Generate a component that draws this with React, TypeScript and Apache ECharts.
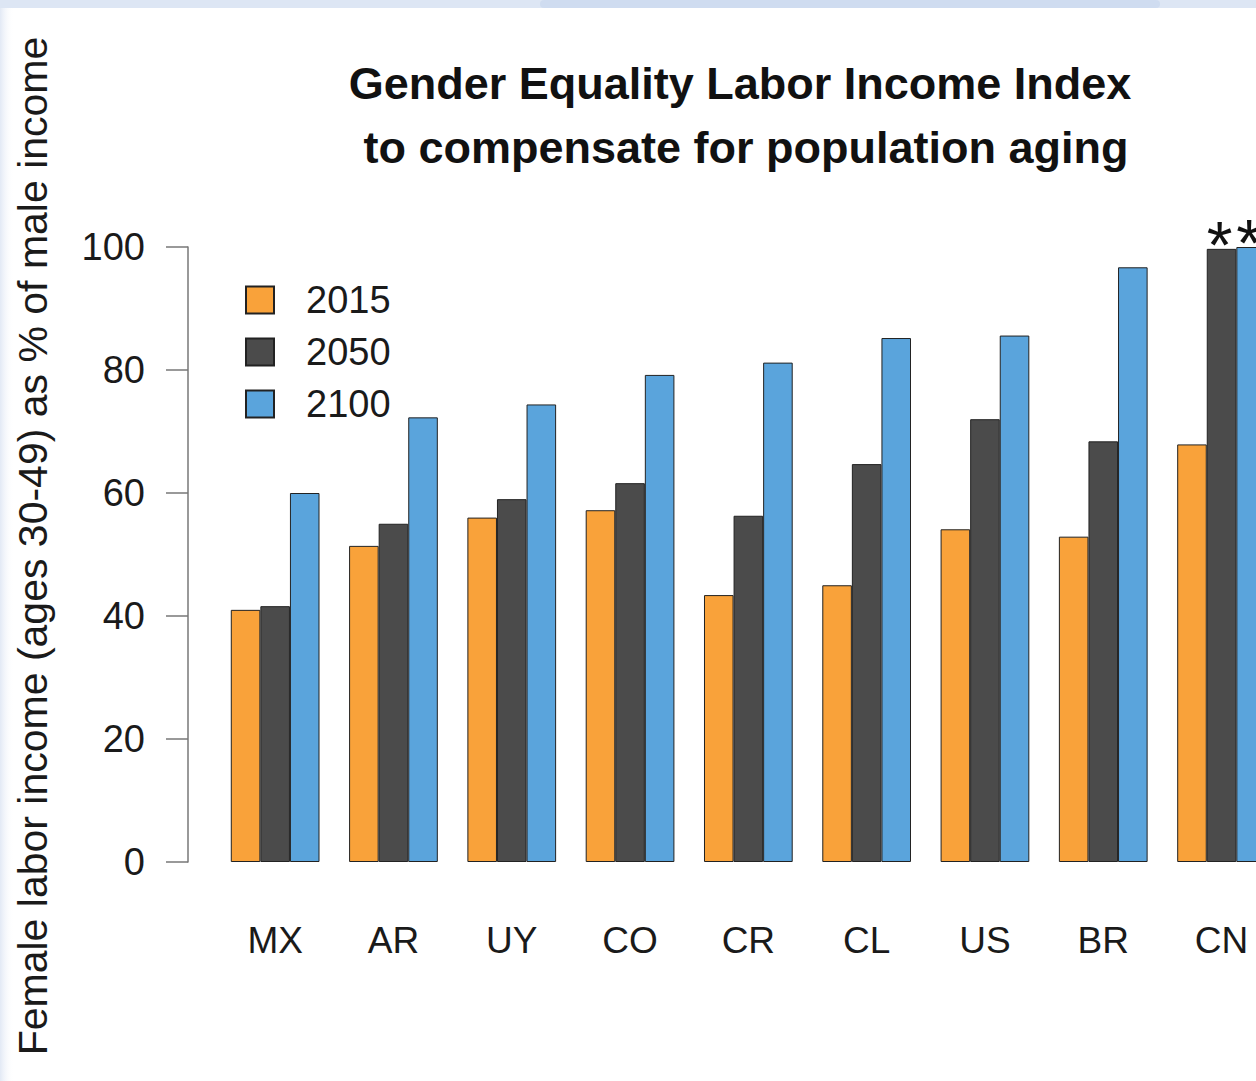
import { useEffect, useRef } from "react";
import * as echarts from "echarts";

const countries = ["MX", "AR", "UY", "CO", "CR", "CL", "US", "BR", "CN"];
const years = ["2015", "2050", "2100"];
const values2015 = [41.0, 51.4, 56.0, 57.2, 43.4, 45.0, 54.1, 52.9, 67.9];
const values2050 = [41.6, 55.0, 59.0, 61.6, 56.3, 64.7, 72.0, 68.4, 99.7];
const values2100 = [60.0, 72.3, 74.4, 79.2, 81.2, 85.2, 85.6, 96.7, 100.0];
// countries whose 2050/2100 values reach the 100 cap (marked with *)
const capped2050 = ["CN"];
const capped2100 = ["CN"];
const yTicks = [0, 20, 40, 60, 80, 100];
const titleLine1 = "Gender Equality Labor Income Index";
const titleLine2 = "to compensate for population aging";
const yAxisTitle = "Female labor income (ages 30-49) as % of male income";

const colors = ["#F9A23A", "#4B4B4B", "#5AA4DC"];
const FONT = "'Liberation Sans', Arial, Helvetica, sans-serif";

function withCaps(vals: number[], capped: string[]) {
  return vals.map((v, i) =>
    capped.includes(countries[i])
      ? {
          value: v,
          label: {
            show: true,
            position: "top",
            formatter: "*",
            distance: 0,
            offset: [-2, 29],
            fontSize: 66,
            color: "#111",
            fontFamily: FONT,
          },
        }
      : v
  );
}

export default function App() {
  const ref = useRef<HTMLDivElement>(null);
  useEffect(() => {
    document.body.style.margin = "0";
    const chart = echarts.init(ref.current!, undefined, { renderer: "svg" });
    const seriesData = [
      withCaps(values2015, []),
      withCaps(values2050, capped2050),
      withCaps(values2100, capped2100),
    ];
    chart.setOption({
      animation: false,
      backgroundColor: "#ffffff",
      textStyle: { fontFamily: FONT },
      grid: { left: 216, top: 247, width: 1064.7, height: 615 },
      legend: {
        data: years,
        orient: "vertical",
        left: 245,
        top: 281,
        padding: 0,
        itemWidth: 28,
        itemHeight: 27,
        itemGap: 14,
        icon: "rect",
        textStyle: { fontSize: 38, color: "#1a1a1a", fontFamily: FONT, padding: [0, 0, 0, 27] },
      },
      xAxis: {
        type: "category",
        data: countries,
        axisLine: { show: false },
        axisTick: { show: false },
        axisLabel: { margin: 60, fontSize: 37, color: "#1a1a1a", fontFamily: FONT },
      },
      yAxis: {
        type: "value",
        min: yTicks[0],
        max: yTicks[yTicks.length - 1],
        interval: yTicks[1] - yTicks[0],
        offset: 28,
        axisLine: { show: true, lineStyle: { color: "#777", width: 1.5 } },
        axisTick: { show: true, length: 22, lineStyle: { color: "#777", width: 1.5 } },
        axisLabel: { margin: 43, fontSize: 38, color: "#1a1a1a", fontFamily: FONT },
        splitLine: { show: false },
      },
      series: years.map((y, i) => ({
        name: y,
        type: "bar",
        data: seriesData[i],
        barGap: "0%",
        barCategoryGap: "25%",
        itemStyle: { color: colors[i], borderColor: "#222", borderWidth: 1 },
      })),
      graphic: [
        {
          type: "rect",
          shape: { x: 0, y: 0, width: 1300, height: 8 },
          style: { fill: "#dde6f4" },
          silent: true,
        },
        {
          type: "rect",
          shape: { x: 540, y: 0, width: 620, height: 8, r: 4 },
          style: { fill: "#cfdcf0" },
          silent: true,
        },
        {
          type: "rect",
          shape: { x: 0, y: 8, width: 14, height: 1073 },
          style: {
            fill: new echarts.graphic.LinearGradient(0, 0, 1, 0, [
              { offset: 0, color: "#e2e9f5" },
              { offset: 1, color: "rgba(255,255,255,0)" },
            ]),
          },
          silent: true,
        },
        {
          type: "text",
          x: 740,
          y: 83,
          style: {
            text: titleLine1,
            fontSize: 45,
            fontWeight: "bold",
            fontFamily: FONT,
            fill: "#111",
            align: "center",
            verticalAlign: "middle",
          },
        },
        {
          type: "text",
          x: 746,
          y: 147,
          style: {
            text: titleLine2,
            fontSize: 45,
            fontWeight: "bold",
            fontFamily: FONT,
            fill: "#111",
            align: "center",
            verticalAlign: "middle",
          },
        },
        {
          type: "text",
          x: 33,
          y: 546,
          rotation: Math.PI / 2,
          style: {
            text: yAxisTitle,
            fontSize: 41,
            fontFamily: FONT,
            fill: "#1a1a1a",
            align: "center",
            verticalAlign: "middle",
          },
        },
      ],
    });
    return () => chart.dispose();
  }, []);
  return (
    <div style={{ width: 1256, height: 1081, overflow: "hidden", position: "relative" }}>
      <div ref={ref} style={{ width: 1300, height: 1081 }} />
    </div>
  );
}
